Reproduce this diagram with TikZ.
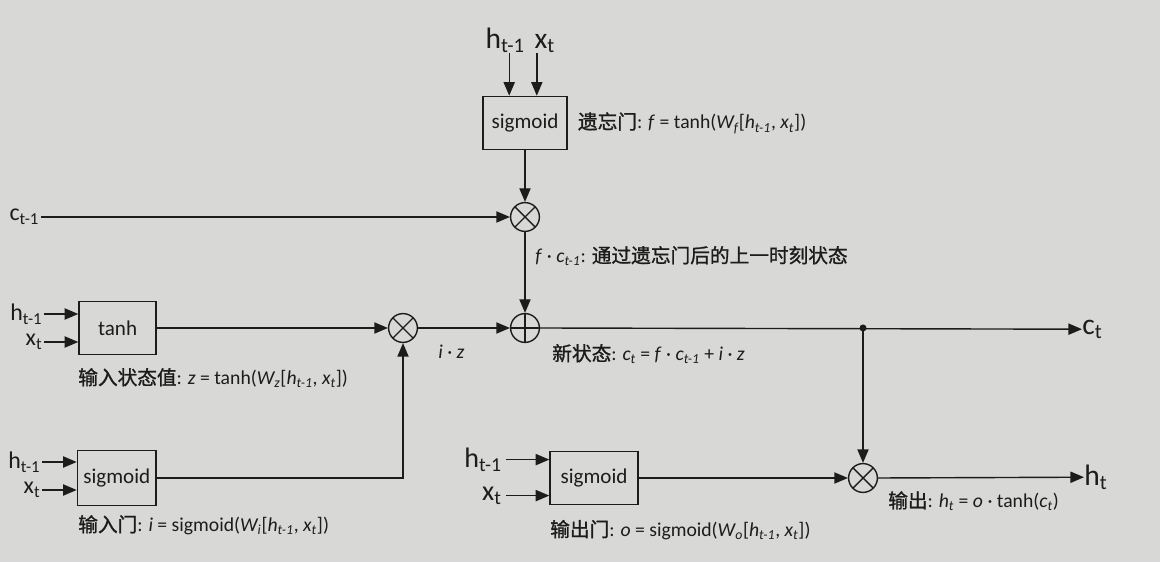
\documentclass[tikz,border=0pt]{standalone}
\usepackage{fontspec}
\setmainfont{Carlito}
\newfontfamily\cjk[FakeBold=1.2]{Noto Sans CJK SC}
\usetikzlibrary{positioning,arrows.meta,calc}
\newcommand{\sbs}[1]{\textsubscript{#1}}
\definecolor{paper}{RGB}{216,217,214}
\definecolor{ink}{RGB}{28,28,28}

\begin{document}
\begin{tikzpicture}[
    >={Triangle[length=3.4mm,width=2.8mm]},
    arr/.style={->, line width=1pt, draw=ink},
    gate/.style={
        rectangle, draw=ink, line width=1pt, fill=paper,
        minimum width=2.1cm, minimum height=1.33cm, inner sep=0pt,
        font=\fontsize{15}{17}\selectfont, text=ink
    },
    mul/.style={
        circle, draw=ink, line width=1pt, minimum size=0.72cm, inner sep=0pt,
        path picture={\draw[ink, line width=1pt]
            (path picture bounding box.south west) -- (path picture bounding box.north east)
            (path picture bounding box.north west) -- (path picture bounding box.south east);}
    },
    add/.style={
        circle, draw=ink, line width=1pt, minimum size=0.72cm, inner sep=0pt,
        path picture={\draw[ink, line width=1pt]
            (path picture bounding box.north) -- (path picture bounding box.south)
            (path picture bounding box.west) -- (path picture bounding box.east);}
    },
    dot/.style={circle, fill=ink, minimum size=5pt, inner sep=0pt},
    lbl/.style={font=\fontsize{14}{16}\selectfont, anchor=west, inner sep=0pt, text=ink},
    inp/.style={font=\fontsize{17}{19}\selectfont, inner sep=1pt, text=ink},
    big/.style={font=\fontsize{21}{23}\selectfont, inner sep=0pt, text=ink}
]

% ---------------- background ----------------
\fill[paper] (0,0) rectangle (29,14.05);
\useasboundingbox (0,0) rectangle (29,14.05);

% ---------------- forget gate ----------------
\node[big, anchor=south] (hf) at (12.63,12.72) {h\sbs{t-1}};
\node[big, anchor=south] (xf) at (13.62,12.72) {x\sbs{t}};
\node[gate] (fbox) at (13.125,10.975) {sigmoid};
\node[lbl, right=0.25cm of fbox] (flbl) {{\cjk 遗忘门}: \textit{f} = tanh(\textit{W\sbs{f}}[\textit{h\sbs{t-1}}, \textit{x\sbs{t}}])};
\node[mul] (mulf) at (13.125,8.625) {};
\node[inp, anchor=east] (cprev) at (1.02,8.625) {c\sbs{t-1}};

\draw[arr] ([xshift=1mm]hf.south) -- ([xshift=1mm]hf.south |- fbox.north);
\draw[arr] ([xshift=-2mm]xf.south) -- ([xshift=-2mm]xf.south |- fbox.north);
\draw[arr] (fbox.south) -- (mulf.north);
\draw[arr] (cprev.east) -- (mulf.west);

% ---------------- input state value ----------------
\node[gate, minimum width=1.93cm] (zbox) at (2.94,5.85) {tanh};
\node[inp, anchor=east] (hz) at (1.1,6.2) {h\sbs{t-1}};
\node[inp, anchor=east] (xz) at (1.1,5.5) {x\sbs{t}};
\node[lbl] (zlbl) at (1.95,4.6) {{\cjk 输入状态值}: \textit{z} = tanh(\textit{W\sbs{z}}[\textit{h\sbs{t-1}}, \textit{x\sbs{t}}])};

\draw[arr] (hz.east) -- (hz.east -| zbox.west);
\draw[arr] (xz.east) -- (xz.east -| zbox.west);

% ---------------- input gate ----------------
\node[gate, minimum width=1.97cm, minimum height=1.38cm] (ibox) at (2.92,2.1) {sigmoid};
\node[inp, anchor=east] (hi) at (1.05,2.5) {h\sbs{t-1}};
\node[inp, anchor=east] (xi) at (1.05,1.8) {x\sbs{t}};
\node[lbl] (ilbl) at (1.95,0.92) {{\cjk 输入门}: \textit{i} = sigmoid(\textit{W\sbs{i}}[\textit{h\sbs{t-1}}, \textit{x\sbs{t}}])};

\draw[arr] (hi.east) -- (hi.east -| ibox.west);
\draw[arr] (xi.east) -- (xi.east -| ibox.west);

% ---------------- new cell state ----------------
\node[mul] (muli) at (10.075,5.85) {};
\node[add] (addc) at (13.125,5.85) {};
\node[dot] (split) at (21.575,5.85) {};
\node[big, anchor=west] (cout) at (27.05,5.82) {c\sbs{t}};
\node[lbl] at (10.95,5.25) {\textit{i} · \textit{z}};
\node[lbl] (flow) at (13.38,7.65) {\textit{f} · \textit{c\sbs{t-1}}: {\cjk 通过遗忘门后的上一时刻状态}};
\node[lbl] (clbl) at (13.8,5.2) {{\cjk 新状态}: \textit{c\sbs{t}} = \textit{f} · \textit{c\sbs{t-1}} + \textit{i} · \textit{z}};

\draw[arr] (zbox.east) -- (muli.west);
\draw[arr] (ibox.east) -| (muli.south);
\draw[arr] (muli.east) -- (addc.west);
\draw[arr] (mulf.south) -- (addc.north);
\draw[arr] (addc.east) -- (cout.west);

% ---------------- output gate ----------------
\node[gate, minimum width=2.2cm] (obox) at (14.85,2.1) {sigmoid};
\node[big, font=\fontsize{20}{22}\selectfont, anchor=east] (ho) at (12.55,2.56) {h\sbs{t-1}};
\node[big, font=\fontsize{20}{22}\selectfont, anchor=east] (xo) at (12.55,1.66) {x\sbs{t}};
\node[mul] (mulo) at (21.575,2.1) {};
\node[big, anchor=west] (hout) at (27.1,2.12) {h\sbs{t}};
\node[lbl] (olbl) at (13.75,0.8) {{\cjk 输出门}: \textit{o} = sigmoid(\textit{W\sbs{o}}[\textit{h\sbs{t-1}}, \textit{x\sbs{t}}])};
\node[lbl] (hlbl) at (22.2,1.52) {{\cjk 输出}: \textit{h\sbs{t}} = \textit{o} · tanh(\textit{c\sbs{t}})};

\draw[arr] ([xshift=1mm]ho.east) -- (ho.east -| obox.west);
\draw[arr] ([xshift=1mm]xo.east) -- (xo.east -| obox.west);
\draw[arr] (obox.east) -- (mulo.west);
\draw[arr] (split.center) -- (mulo.north);
\draw[arr] (mulo.east) -- (hout.west);

\end{tikzpicture}
\end{document}
